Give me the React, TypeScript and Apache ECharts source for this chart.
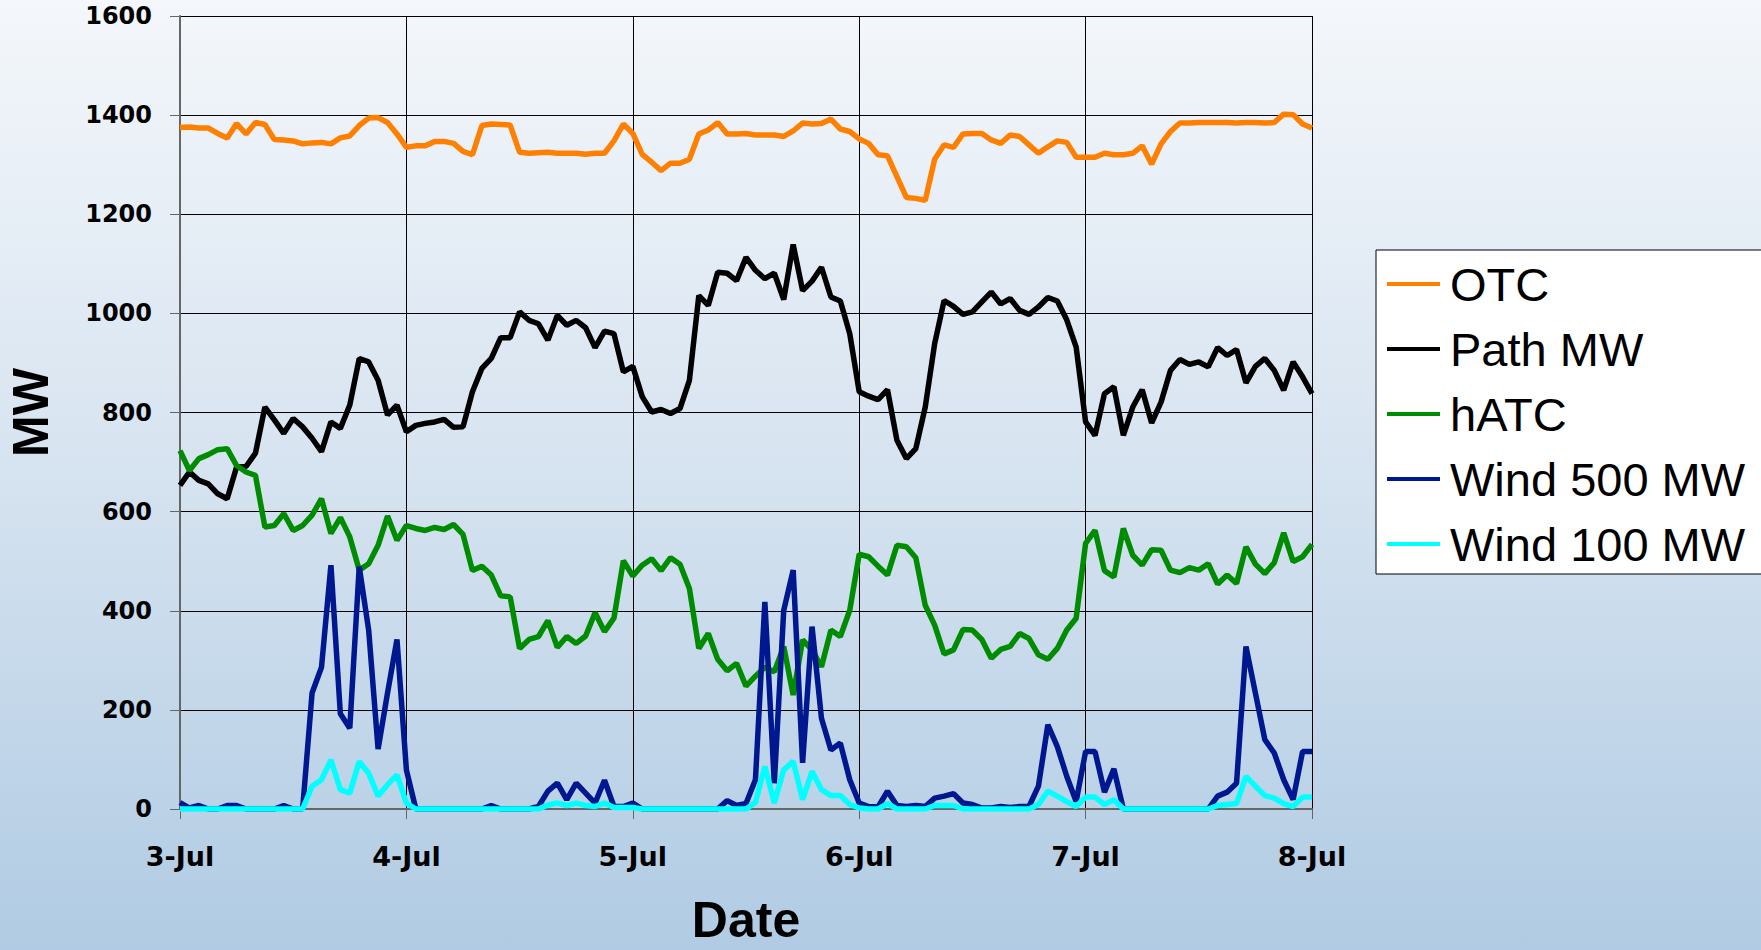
import React, { useEffect, useRef } from "react";
import * as echarts from "echarts";

const DAYS = ["3-Jul", "4-Jul", "5-Jul", "6-Jul", "7-Jul", "8-Jul"];
const HOURS: string[] = [];
for (let d = 0; d < 5; d++) {
  for (let h = 0; h < 24; h++) HOURS.push(`${DAYS[d]} ${h}:00`);
}
HOURS.push(`${DAYS[5]} 0:00`);

const SERIES_NAMES = ["OTC", "Path MW", "hATC", "Wind 500 MW", "Wind 100 MW"];
const SERIES_COLORS = ["#ff8000", "#000000", "#008c00", "#00188f", "#00ffff"];

const OTC = [
  1375, 1376, 1374, 1374, 1363, 1354, 1383, 1362, 1385, 1381, 1351, 1350, 1348, 1342, 1344, 1345, 1342, 1354, 1358, 1379, 1394, 1395, 1385, 1362,
  1335, 1338, 1338, 1347, 1347, 1343, 1327, 1320, 1379, 1382, 1381, 1380, 1325, 1323, 1324, 1325, 1323, 1323, 1323, 1321, 1323, 1323, 1348, 1382,
  1363, 1321, 1305, 1288, 1303, 1303, 1311, 1362, 1370, 1385, 1362, 1362, 1363, 1360, 1360, 1360, 1357, 1368, 1384, 1382, 1383, 1392, 1372, 1367,
  1352, 1343, 1320, 1318, 1276, 1234, 1232, 1228, 1311, 1340, 1335, 1362, 1363, 1363, 1350, 1343, 1360, 1357, 1340, 1323, 1336, 1348, 1345, 1315,
  1315, 1315, 1323, 1320, 1320, 1323, 1338, 1301, 1342, 1367, 1384, 1384, 1385, 1385, 1385, 1385, 1384, 1385, 1385, 1384, 1385, 1402, 1401, 1382,
  1374,
];

const PATH_MW = [
  653, 680, 663, 656, 636, 626, 690, 691, 718, 811, 785, 758, 788, 771, 748, 721, 781, 768, 815, 909, 902, 865, 795, 815,
  761, 774, 778, 781, 786, 770, 771, 842, 889, 909, 951, 951, 1003, 986, 979, 946, 996, 976, 986, 971, 931, 964, 959, 882,
  893, 832, 801, 806, 798, 808, 865, 1036, 1016, 1083, 1081, 1066, 1113, 1087, 1070, 1081, 1028, 1139, 1046, 1065, 1093, 1033, 1025, 959,
  842, 833, 826, 846, 744, 707, 727, 811, 939, 1026, 1014, 998, 1003, 1023, 1043, 1019, 1030, 1006, 998, 1013, 1032, 1025, 987, 932,
  781, 754, 838, 852, 754, 811, 846, 779, 821, 885, 907, 897, 902, 892, 931, 915, 927, 860, 893, 909, 885, 845, 902, 872,
  838,
];

const HATC = [
  723, 683, 707, 715, 725, 727, 693, 680, 673, 569, 572, 596, 562, 572, 593, 626, 556, 588, 549, 482, 495, 532, 591, 542,
  572, 566, 562, 568, 564, 574, 554, 481, 490, 472, 430, 428, 324, 342, 348, 380, 326, 348, 334, 349, 396, 358, 385, 501,
  470, 492, 505, 481, 507, 494, 445, 324, 354, 302, 279, 294, 248, 268, 286, 277, 328, 230, 341, 321, 287, 361, 348, 401,
  514, 509, 490, 472, 532, 529, 507, 411, 371, 313, 321, 362, 361, 342, 304, 322, 328, 354, 344, 311, 302, 324, 361, 385,
  536, 562, 481, 468, 566, 512, 492, 523, 522, 482, 477, 487, 482, 495, 454, 472, 455, 529, 494, 475, 497, 557, 499, 509,
  534,
];

const WIND_500 = [
  13, 2, 7, 0, 0, 7, 7, 0, 0, 0, 0, 7, 0, 0, 234, 286, 492, 192, 163, 489, 361, 121, 234, 342,
  79, 0, 0, 0, 0, 0, 0, 0, 0, 7, 0, 0, 0, 0, 5, 36, 52, 19, 52, 32, 12, 58, 5, 5,
  12, 0, 0, 0, 0, 0, 0, 0, 0, 0, 17, 7, 11, 59, 418, 52, 401, 482, 93, 368, 183, 119, 133, 59,
  12, 5, 4, 36, 7, 5, 7, 5, 22, 26, 31, 12, 9, 2, 2, 5, 3, 5, 5, 46, 170, 126, 66, 15,
  116, 116, 34, 81, 0, 0, 0, 0, 0, 0, 0, 0, 0, 0, 26, 34, 52, 328, 234, 140, 113, 59, 19, 116,
  116,
];

const WIND_100 = [
  0, 0, 0, 0, 0, 0, 0, 0, 0, 0, 0, 0, 0, 0, 46, 59, 99, 39, 32, 96, 72, 26, 49, 69,
  12, 0, 0, 0, 0, 0, 0, 0, 0, 0, 0, 0, 0, 0, 0, 8, 12, 7, 12, 7, 5, 12, 3, 3,
  3, 0, 0, 0, 0, 0, 0, 0, 0, 0, 0, 0, 0, 13, 86, 12, 79, 96, 19, 76, 39, 27, 27, 9,
  2, 0, 0, 11, 0, 0, 0, 0, 7, 7, 7, 0, 0, 0, 0, 0, 0, 0, 0, 9, 36, 26, 15, 5,
  24, 24, 9, 19, 0, 0, 0, 0, 0, 0, 0, 0, 0, 0, 7, 9, 11, 66, 46, 27, 22, 11, 5, 24,
  24,
];

const Y_MIN = 0;
const Y_MAX = 1600;
const Y_INTERVAL = 200;

const SERIES_DATA = [OTC, PATH_MW, HATC, WIND_500, WIND_100];

export default function App() {
  const ref = useRef<HTMLDivElement>(null);

  useEffect(() => {
    if (!ref.current) return;
    const chart = echarts.init(ref.current, undefined, { renderer: "svg" });
    chart.setOption({
      animation: false,
      backgroundColor: "transparent",
      grid: {
        left: 180,
        right: 449,
        top: 16,
        bottom: 141,
        containLabel: false,
        outerBoundsMode: "none",
      },
      legend: {
        orient: "vertical",
        left: 1376,
        top: 250,
        backgroundColor: "#ffffff",
        borderColor: "#000000",
        borderWidth: 1,
        borderRadius: 0,
        padding: [8, 22, 4, 11],
        itemWidth: 53,
        itemHeight: 4,
        itemGap: 13,
        icon: "rect",
        selectedMode: false,
        data: SERIES_NAMES,
        textStyle: {
          fontFamily: "Liberation Sans",
          fontSize: 47,
          color: "#000",
          lineHeight: 52,
          padding: [0, 0, 0, 5],
        },
      },
      xAxis: {
        type: "category",
        data: HOURS,
        boundaryGap: false,
        axisLine: { show: true, lineStyle: { color: "#666", width: 2 } },
        axisTick: { show: true, interval: 23, length: 10, lineStyle: { color: "#666", width: 1 } },
        axisLabel: {
          fontFamily: "DejaVu Sans",
          fontWeight: "bold",
          fontSize: 27,
          color: "#000",
          interval: 23,
          margin: 34,
          formatter: (v: string) => v.split(" ")[0],
        },
        splitLine: { show: true, interval: 23, lineStyle: { color: "#000", width: 1 } },
        name: "Date",
        nameLocation: "middle",
        nameGap: 86,
        nameTextStyle: {
          fontFamily: "Liberation Sans",
          fontWeight: "bold",
          fontSize: 50,
          lineHeight: 50,
          color: "#000",
        },
      },
      yAxis: {
        type: "value",
        min: Y_MIN,
        max: Y_MAX,
        interval: Y_INTERVAL,
        axisLine: { show: true, lineStyle: { color: "#666", width: 2 } },
        axisTick: { show: true, length: 10, lineStyle: { color: "#666", width: 1 } },
        axisLabel: {
          fontFamily: "DejaVu Sans",
          fontWeight: "bold",
          fontSize: 24,
          color: "#000",
          margin: 28,
          formatter: (v: number) => String(v),
        },
        splitLine: { show: true, lineStyle: { color: "#000", width: 1 } },
        name: "MW",
        nameLocation: "middle",
        nameRotate: 90,
        nameGap: 124,
        nameTextStyle: {
          fontFamily: "Liberation Sans",
          fontWeight: "bold",
          fontSize: 50,
          color: "#000",
        },
      },
      series: SERIES_NAMES.map((name, i) => ({
        name,
        type: "line",
        data: SERIES_DATA[i],
        showSymbol: false,
        symbol: "none",
        color: SERIES_COLORS[i],
        lineStyle: { color: SERIES_COLORS[i], width: 5.5 },
        emphasis: { disabled: true },
      })),
    });
    return () => chart.dispose();
  }, []);

  return (
    <div
      ref={ref}
      style={{
        position: "fixed",
        left: 0,
        top: 0,
        width: 1761,
        height: 950,
        background: "linear-gradient(180deg, #f4f7fb 0%, #d6e3f0 50%, #b0cbe3 100%)",
      }}
    />
  );
}
